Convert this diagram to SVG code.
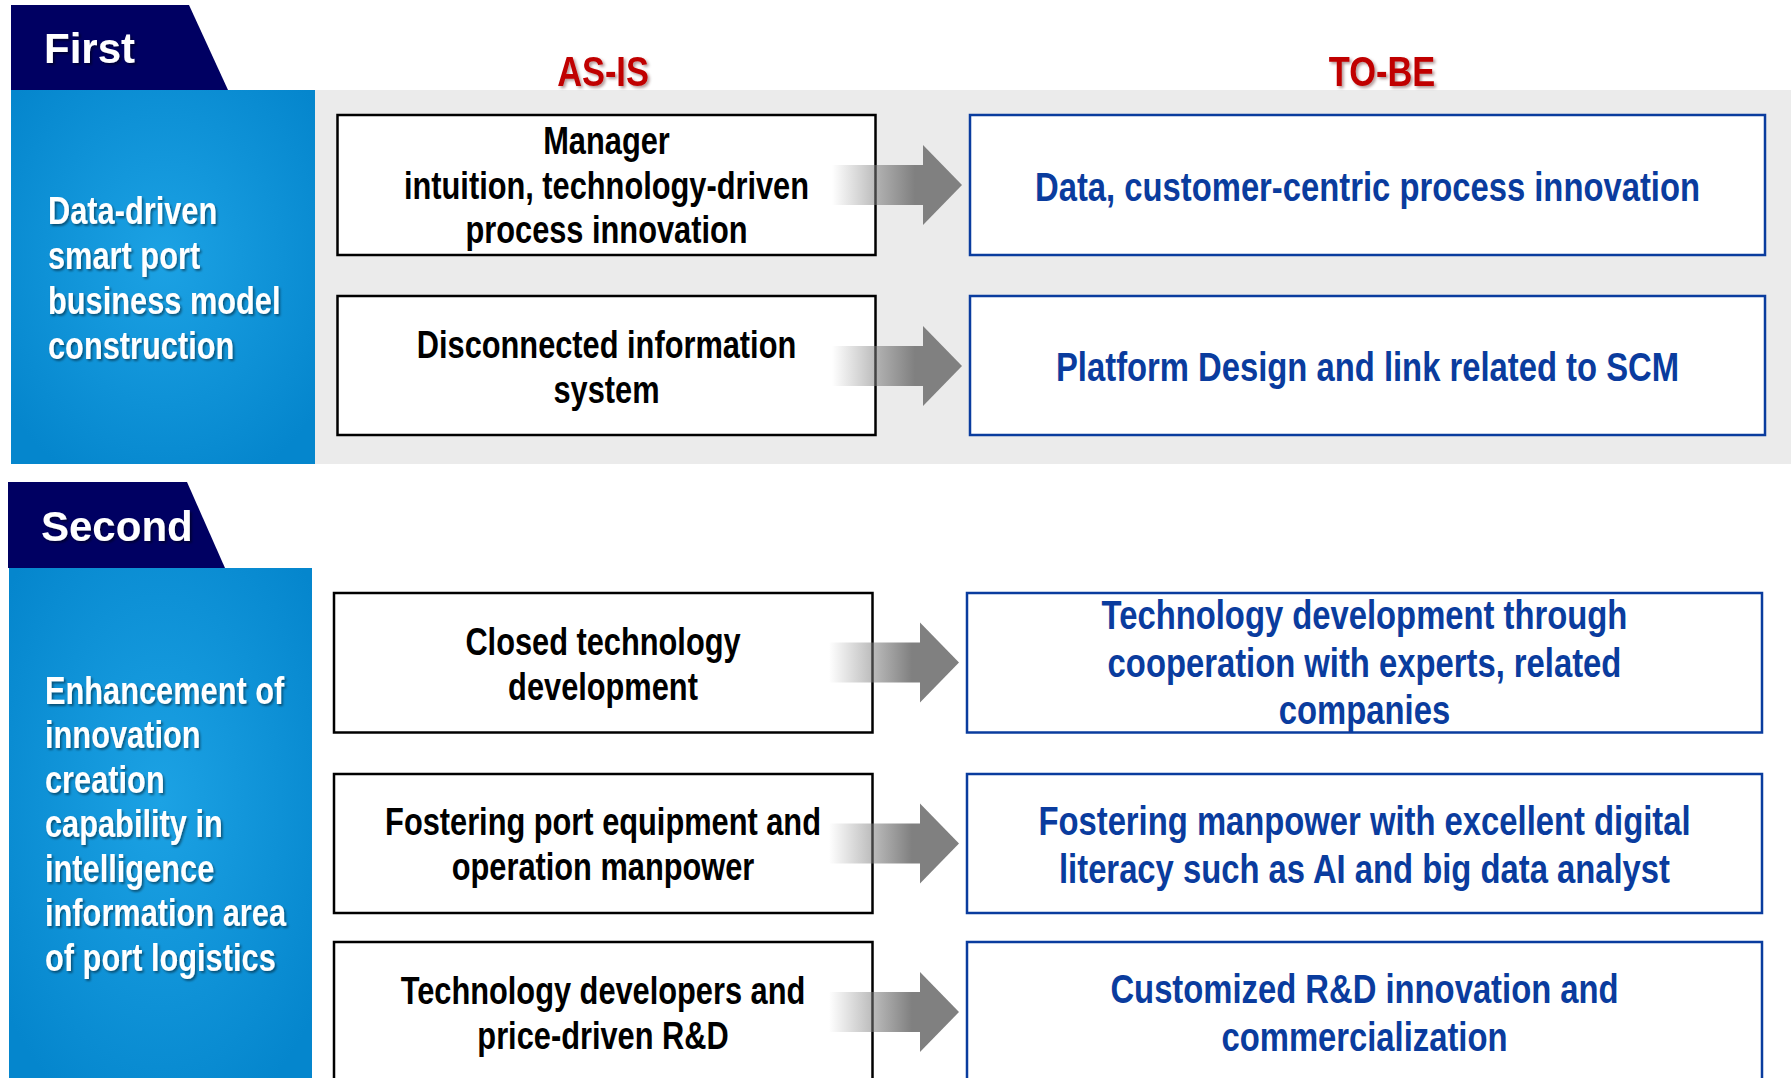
<svg xmlns="http://www.w3.org/2000/svg" width="1791" height="1078" viewBox="0 0 1791 1078">
<defs>
<style>
.tab{fill:#000062}
.tabtxt{font-family:"Liberation Sans",Arial,sans-serif;font-weight:bold;font-size:42px;fill:#fff}
.panel{fill:url(#pg)}
.ptxt{font-family:"Liberation Sans",Arial,sans-serif;font-weight:bold;font-size:38px;fill:#fff}
.hdr{font-family:"Liberation Sans",Arial,sans-serif;font-weight:bold;font-size:43px;fill:#c00000}
.asbox{fill:#fff;stroke:#000;stroke-width:2.5}
.tobox{fill:#fff;stroke:#0a3c9e;stroke-width:2.5}
.astxt{font-family:"Liberation Sans",Arial,sans-serif;font-weight:bold;font-size:38px;fill:#000}
.totxt{font-family:"Liberation Sans",Arial,sans-serif;font-weight:bold;font-size:41px;fill:#0a3c9e}
</style>
<radialGradient id="pg" cx="0.5" cy="0.45" r="0.65">
<stop offset="0" stop-color="#1ca2e4"/>
<stop offset="1" stop-color="#0586cd"/>
</radialGradient>
<linearGradient id="bar" x1="0" y1="0" x2="1" y2="0">
<stop offset="0" stop-color="#808080" stop-opacity="0"/>
<stop offset="0.9" stop-color="#808080" stop-opacity="1"/>
<stop offset="1" stop-color="#808080" stop-opacity="1"/>
</linearGradient>
<filter id="sh" x="-10%" y="-30%" width="130%" height="160%">
<feDropShadow dx="2" dy="2" stdDeviation="1.2" flood-color="#000" flood-opacity="0.45"/>
</filter>
<filter id="shr" x="-10%" y="-30%" width="130%" height="160%">
<feDropShadow dx="2" dy="2" stdDeviation="1.5" flood-color="#400000" flood-opacity="0.4"/>
</filter>
<g id="arrow">
<rect x="0" y="-20" width="92" height="40" fill="url(#bar)"/>
<polygon points="91,-40 130,0 91,40" fill="#808080"/>
</g>
</defs>
<rect width="1791" height="1078" fill="#fff"/>

<g id="section1-band">
<rect x="315" y="90" width="1476" height="374" fill="#ebebeb"/>
</g>

<g id="headers" filter="url(#shr)">
<g transform="translate(603,0) scale(0.8,1)"><text class="hdr" x="0" y="86.5" text-anchor="middle">AS-IS</text></g>
<g transform="translate(1382,0) scale(0.8,1)"><text class="hdr" x="0" y="86.5" text-anchor="middle">TO-BE</text></g>
</g>

<g id="tab-first">
<polygon class="tab" points="11,5 189,5 228,90 11,90"/>
<text class="tabtxt" x="44" y="63" filter="url(#sh)">First</text>
</g>
<g id="panel-first">
<rect class="panel" x="11" y="90" width="304" height="374"/>
<g transform="translate(48,0) scale(0.81,1)" filter="url(#sh)">
<text class="ptxt" x="0"><tspan x="0" y="224">Data-driven</tspan><tspan x="0" y="269">smart port</tspan><tspan x="0" y="314">business model</tspan><tspan x="0" y="359">construction</tspan></text>
</g>
</g>

<g id="as1">
<rect class="asbox" x="337.5" y="115" width="538" height="140"/>
<g transform="translate(606.5,0) scale(0.81,1)"><text class="astxt" text-anchor="middle"><tspan x="0" y="154.5">Manager</tspan><tspan x="0" y="199">intuition, technology-driven</tspan><tspan x="0" y="243.5">process innovation</tspan></text></g>
</g>
<g id="as2">
<rect class="asbox" x="337.5" y="296" width="538" height="139"/>
<g transform="translate(606.5,0) scale(0.81,1)"><text class="astxt" text-anchor="middle"><tspan x="0" y="358">Disconnected information</tspan><tspan x="0" y="403">system</tspan></text></g>
</g>
<g id="to1">
<rect class="tobox" x="970" y="115" width="795" height="140"/>
<g transform="translate(1367.5,0) scale(0.8,1)"><text class="totxt" text-anchor="middle" x="0" y="201">Data, customer-centric process innovation</text></g>
</g>
<g id="to2">
<rect class="tobox" x="970" y="296" width="795" height="139"/>
<g transform="translate(1367.5,0) scale(0.8,1)"><text class="totxt" text-anchor="middle" x="0" y="381">Platform Design and link related to SCM</text></g>
</g>

<g id="tab-second">
<polygon class="tab" points="8,482 187,482 225,568 8,568"/>
<text class="tabtxt" x="41" y="541" filter="url(#sh)">Second</text>
</g>
<g id="panel-second">
<rect class="panel" x="9" y="568" width="303" height="520"/>
<g transform="translate(45,0) scale(0.81,1)" filter="url(#sh)">
<text class="ptxt" x="0"><tspan x="0" y="704">Enhancement of</tspan><tspan x="0" y="748.5">innovation</tspan><tspan x="0" y="793">creation</tspan><tspan x="0" y="837.5">capability in</tspan><tspan x="0" y="882">intelligence</tspan><tspan x="0" y="926.5">information area</tspan><tspan x="0" y="971">of port logistics</tspan></text>
</g>
</g>

<g id="as3">
<rect class="asbox" x="334" y="593" width="538.5" height="139.5"/>
<g transform="translate(603,0) scale(0.81,1)"><text class="astxt" text-anchor="middle"><tspan x="0" y="655">Closed technology</tspan><tspan x="0" y="700">development</tspan></text></g>
</g>
<g id="as4">
<rect class="asbox" x="334" y="774" width="538.5" height="139"/>
<g transform="translate(603,0) scale(0.81,1)"><text class="astxt" text-anchor="middle"><tspan x="0" y="835.5">Fostering port equipment and</tspan><tspan x="0" y="880">operation manpower</tspan></text></g>
</g>
<g id="as5">
<rect class="asbox" x="334" y="942" width="538.5" height="140"/>
<g transform="translate(603,0) scale(0.81,1)"><text class="astxt" text-anchor="middle"><tspan x="0" y="1004">Technology developers and</tspan><tspan x="0" y="1049">price-driven R&amp;D</tspan></text></g>
</g>
<g id="to3">
<rect class="tobox" x="967" y="593" width="795" height="139.5"/>
<g transform="translate(1364.5,0) scale(0.8,1)"><text class="totxt" text-anchor="middle"><tspan x="0" y="629.5">Technology development through</tspan><tspan x="0" y="677">cooperation with experts, related</tspan><tspan x="0" y="724">companies</tspan></text></g>
</g>
<g id="to4">
<rect class="tobox" x="967" y="774" width="795" height="139"/>
<g transform="translate(1364.5,0) scale(0.8,1)"><text class="totxt" text-anchor="middle"><tspan x="0" y="835.5">Fostering manpower with excellent digital</tspan><tspan x="0" y="883">literacy such as AI and big data analyst</tspan></text></g>
</g>
<g id="to5">
<rect class="tobox" x="967" y="942" width="795" height="140"/>
<g transform="translate(1364.5,0) scale(0.8,1)"><text class="totxt" text-anchor="middle"><tspan x="0" y="1003">Customized R&amp;D innovation and</tspan><tspan x="0" y="1051">commercialization</tspan></text></g>
</g>

<g id="connectors">
<use href="#arrow" transform="translate(832,185)"/>
<use href="#arrow" transform="translate(832,366)"/>
<use href="#arrow" transform="translate(829,662.5)"/>
<use href="#arrow" transform="translate(829,843.5)"/>
<use href="#arrow" transform="translate(829,1012)"/>
</g>
</svg>
